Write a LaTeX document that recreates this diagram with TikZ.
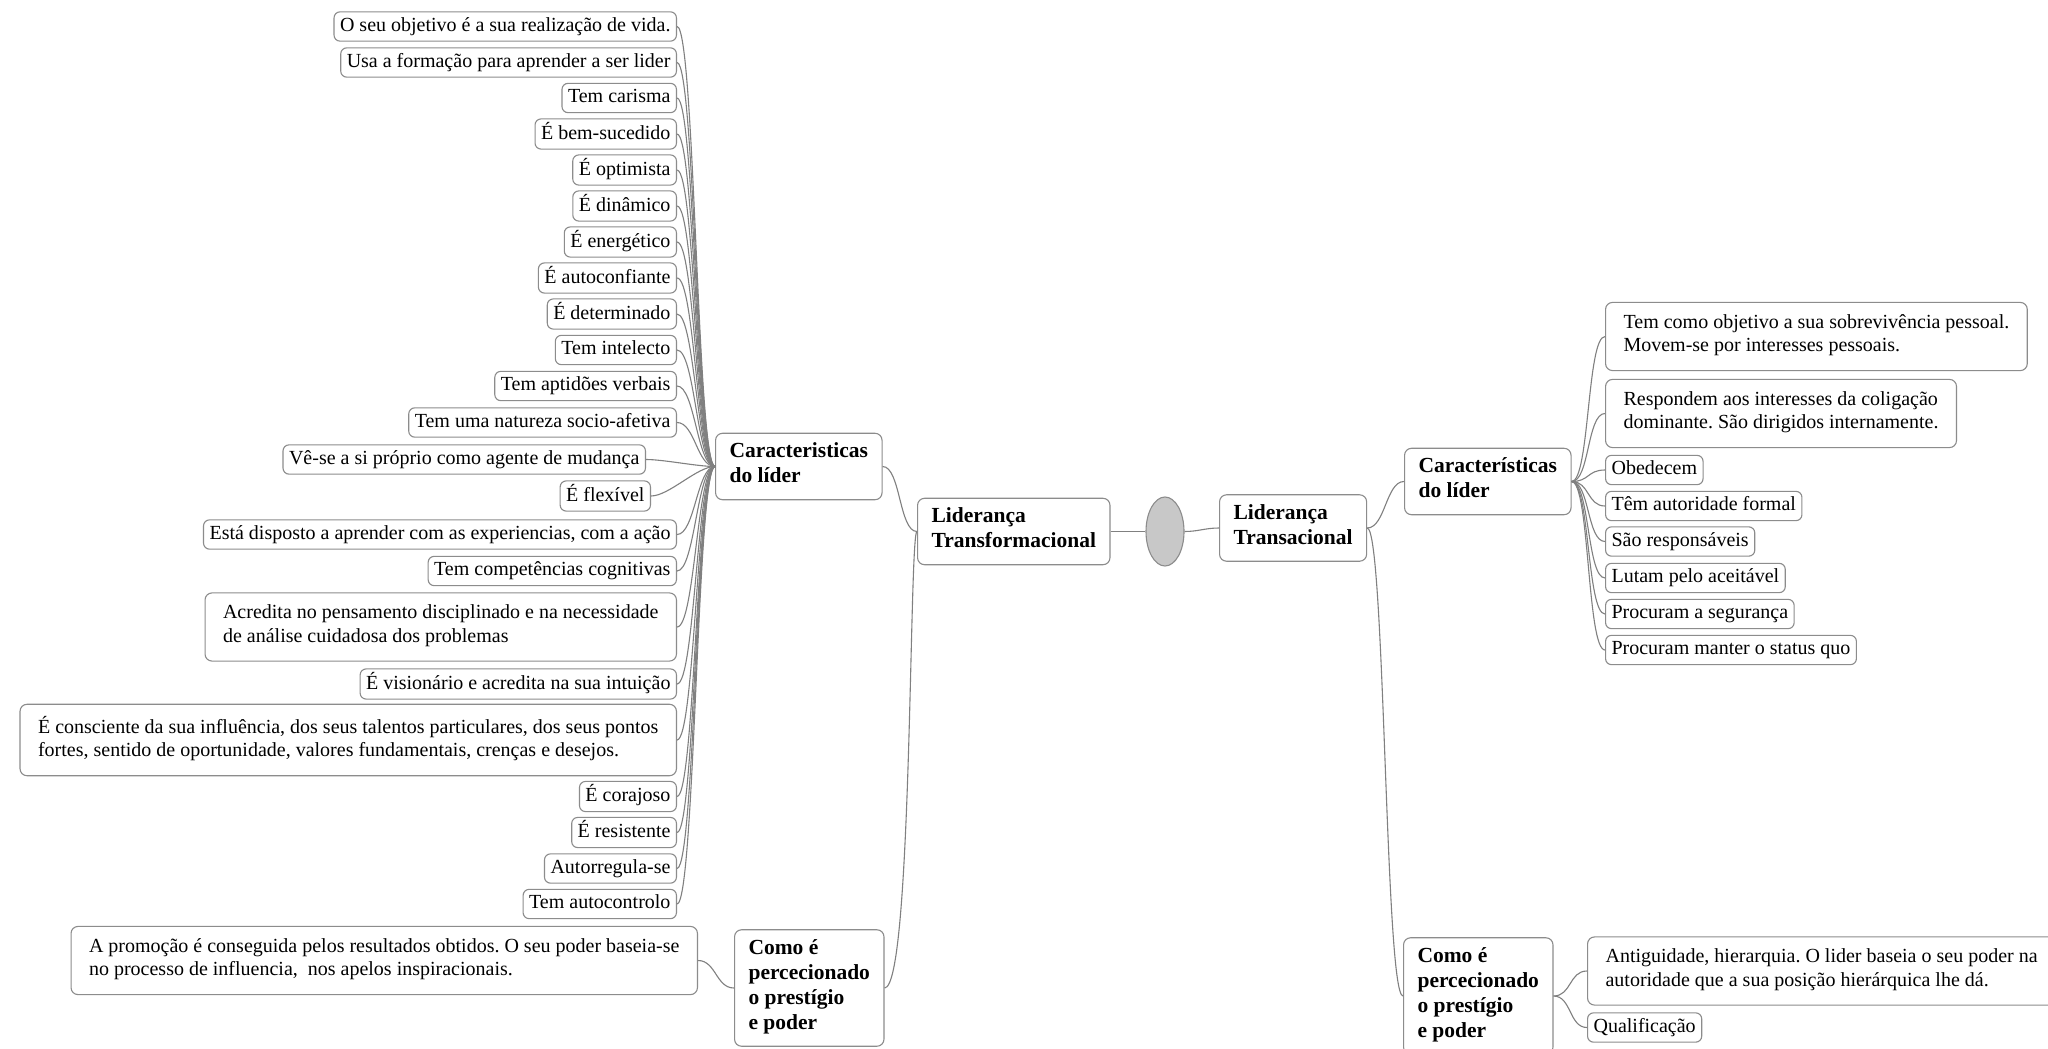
\documentclass[tikz,border=0pt]{standalone}
\usepackage{fontspec}
\setmainfont{Liberation Serif}
\usepackage{tikz}
\usetikzlibrary{shapes.geometric}

\definecolor{boxGray}{HTML}{8C8C8C}
\definecolor{linkGray}{HTML}{808080}
\definecolor{hubGray}{HTML}{C8C8C8}

\frenchspacing

\begin{document}
\begin{tikzpicture}[x=1pt,y=-1pt]

		\useasboundingbox[fill=white] (0,0) rectangle (2048,1049);

		\tikzstyle{idea}=[draw=boxGray, fill=white, rectangle, rounded corners=6pt, line width=1.1pt, inner xsep=6pt, inner ysep=3pt, font=\fontsize{20}{23.3}\selectfont, execute at begin node=\strut, execute at end node=\strut]

		\tikzstyle{ideaLong}=[idea, align=left, rounded corners=7pt, inner xsep=18pt, inner ysep=12pt]

		\tikzstyle{topic}=[idea, align=left, rounded corners=7pt, inner xsep=14pt, inner ysep=9.5pt, font=\fontsize{21.5}{25}\selectfont\bfseries]

		\tikzstyle{hub}=[draw=boxGray, fill=hubGray, ellipse, line width=1.1pt, minimum width=38pt, minimum height=69pt, inner sep=0pt]

		% centro
		\node[topic, anchor=west] (TF) at (917,531.5) {Liderança\\Transformacional};
		\node[hub] (E) at (1165,531.5) {};
		\node[topic, anchor=west] (TA) at (1219,528) {Liderança\\Transacional};

		\node[topic, anchor=west] (CL) at (715,466.5) {Caracteristicas\\do líder};
		\node[topic, anchor=west] (PL) at (734,988) {Como é\\percecionado\\o prestígio\\e poder};
		\node[topic, anchor=west] (CR) at (1404,481.5) {Características\\do líder};
		\node[topic, anchor=west] (PR) at (1403,996) {Como é\\percecionado\\o prestígio\\e poder};

		% transformacional
		\node[idea, anchor=east] (L1) at (677,26.5) {O seu objetivo é a sua realização de vida.};
		\node[idea, anchor=east] (L2) at (677,62.5) {Usa a formação para aprender a ser lider};
		\node[idea, anchor=east] (L3) at (677,98) {Tem carisma};
		\node[idea, anchor=east] (L4) at (677,134) {É bem-sucedido};
		\node[idea, anchor=east] (L5) at (677,170) {É optimista};
		\node[idea, anchor=east] (L6) at (677,206) {É dinâmico};
		\node[idea, anchor=east] (L7) at (677,242) {É energético};
		\node[idea, anchor=east] (L8) at (677,278) {É autoconfiante};
		\node[idea, anchor=east] (L9) at (677,314) {É determinado};
		\node[idea, anchor=east] (L10) at (677,350) {Tem intelecto};
		\node[idea, anchor=east] (L11) at (677,386) {Tem aptidões verbais};
		\node[idea, anchor=east] (L12) at (677,422.5) {Tem uma natureza socio-afetiva};
		\node[idea, anchor=east] (L13) at (646,459.5) {Vê-se a si próprio como agente de mudança};
		\node[idea, anchor=east] (L14) at (651,496) {É flexível};
		\node[idea, anchor=east] (L15) at (677,534.5) {Está disposto a aprender com as experiencias, com a ação};
		\node[idea, anchor=east] (L16) at (677,571) {Tem competências cognitivas};
		\node[ideaLong, anchor=east] (L17) at (677,627) {Acredita no pensamento disciplinado e na necessidade\\de análise cuidadosa dos problemas};
		\node[idea, anchor=east] (L18) at (677,684) {É visionário e acredita na sua intuição};
		\node[ideaLong, anchor=east] (L19) at (677,740) {É consciente da sua influência, dos seus talentos particulares, dos seus pontos\\fortes, sentido de oportunidade, valores fundamentais, crenças e desejos.};
		\node[idea, anchor=east] (L20) at (677,796.5) {É corajoso};
		\node[idea, anchor=east] (L21) at (677,832.5) {É resistente};
		\node[idea, anchor=east] (L22) at (677,868.5) {Autorregula-se};
		\node[idea, anchor=east] (L23) at (677,904) {Tem autocontrolo};

		\node[ideaLong, anchor=east] (PLa) at (698,960.5) {A promoção é conseguida pelos resultados obtidos. O seu poder baseia-se\\no processo de influencia, \ nos apelos inspiracionais.};

		% transacional
		\node[ideaLong, anchor=west] (R1) at (1605,336.5) {Tem como objetivo a sua sobrevivência pessoal.\\Movem-se por interesses pessoais.};
		\node[ideaLong, anchor=west] (R2) at (1605,413.5) {Respondem aos interesses da coligação\\dominante. São dirigidos internamente.};
		\node[idea, anchor=west] (R3) at (1605,470) {Obedecem};
		\node[idea, anchor=west] (R4) at (1605,506) {Têm autoridade formal};
		\node[idea, anchor=west] (R5) at (1605,541.5) {São responsáveis};
		\node[idea, anchor=west] (R6) at (1605,578) {Lutam pelo aceitável};
		\node[idea, anchor=west] (R7) at (1605,614) {Procuram a segurança};
		\node[idea, anchor=west] (R8) at (1605,650) {Procuram manter o status quo};

		\node[ideaLong, anchor=west] (PRa) at (1587,971) {Antiguidade, hierarquia. O lider baseia o seu poder na\\autoridade que a sua posição hierárquica lhe dá.};
		\node[idea, anchor=west] (PRb) at (1587,1027.5) {Qualificação};

		\tikzstyle{linkIdea}=[draw=linkGray, line width=1.1pt]

		\draw[linkIdea] (TF.east)--(E.west);
		\draw[linkIdea] (E.east) .. controls +(14,0) and +(-14,0) .. (TA.west);

		\draw[linkIdea] (TF.west) .. controls +(-18,0) and +(18,0) .. (CL.east);
		\draw[linkIdea] (TF.west) .. controls +(-8,0) and +(28,0) .. (PL.east);
		\draw[linkIdea] (TA.east) .. controls +(18,0) and +(-18,0) .. (CR.west);
		\draw[linkIdea] (TA.east) .. controls +(18,0) and +(-18,0) .. (PR.west);

		\draw[linkIdea] (CL.west) .. controls +(-18,0) and +(18,0) .. (L1.east);
		\draw[linkIdea] (CL.west) .. controls +(-18,0) and +(18,0) .. (L2.east);
		\draw[linkIdea] (CL.west) .. controls +(-18,0) and +(18,0) .. (L3.east);
		\draw[linkIdea] (CL.west) .. controls +(-18,0) and +(18,0) .. (L4.east);
		\draw[linkIdea] (CL.west) .. controls +(-18,0) and +(18,0) .. (L5.east);
		\draw[linkIdea] (CL.west) .. controls +(-18,0) and +(18,0) .. (L6.east);
		\draw[linkIdea] (CL.west) .. controls +(-18,0) and +(18,0) .. (L7.east);
		\draw[linkIdea] (CL.west) .. controls +(-18,0) and +(18,0) .. (L8.east);
		\draw[linkIdea] (CL.west) .. controls +(-18,0) and +(18,0) .. (L9.east);
		\draw[linkIdea] (CL.west) .. controls +(-18,0) and +(18,0) .. (L10.east);
		\draw[linkIdea] (CL.west) .. controls +(-18,0) and +(18,0) .. (L11.east);
		\draw[linkIdea] (CL.west) .. controls +(-18,0) and +(18,0) .. (L12.east);
		\draw[linkIdea] (CL.west) .. controls +(-18,0) and +(18,0) .. (L13.east);
		\draw[linkIdea] (CL.west) .. controls +(-18,0) and +(18,0) .. (L14.east);
		\draw[linkIdea] (CL.west) .. controls +(-18,0) and +(18,0) .. (L15.east);
		\draw[linkIdea] (CL.west) .. controls +(-18,0) and +(18,0) .. (L16.east);
		\draw[linkIdea] (CL.west) .. controls +(-18,0) and +(18,0) .. (L17.east);
		\draw[linkIdea] (CL.west) .. controls +(-18,0) and +(18,0) .. (L18.east);
		\draw[linkIdea] (CL.west) .. controls +(-18,0) and +(18,0) .. (L19.east);
		\draw[linkIdea] (CL.west) .. controls +(-18,0) and +(18,0) .. (L20.east);
		\draw[linkIdea] (CL.west) .. controls +(-18,0) and +(18,0) .. (L21.east);
		\draw[linkIdea] (CL.west) .. controls +(-18,0) and +(18,0) .. (L22.east);
		\draw[linkIdea] (CL.west) .. controls +(-18,0) and +(18,0) .. (L23.east);

		\draw[linkIdea] (PL.west) .. controls +(-18,0) and +(18,0) .. (PLa.east);

		\draw[linkIdea] (CR.east) .. controls +(18,0) and +(-18,0) .. (R1.west);
		\draw[linkIdea] (CR.east) .. controls +(18,0) and +(-18,0) .. (R2.west);
		\draw[linkIdea] (CR.east) .. controls +(18,0) and +(-18,0) .. (R3.west);
		\draw[linkIdea] (CR.east) .. controls +(18,0) and +(-18,0) .. (R4.west);
		\draw[linkIdea] (CR.east) .. controls +(18,0) and +(-18,0) .. (R5.west);
		\draw[linkIdea] (CR.east) .. controls +(18,0) and +(-18,0) .. (R6.west);
		\draw[linkIdea] (CR.east) .. controls +(18,0) and +(-18,0) .. (R7.west);
		\draw[linkIdea] (CR.east) .. controls +(18,0) and +(-18,0) .. (R8.west);

		\draw[linkIdea] (PR.east) .. controls +(18,0) and +(-18,0) .. (PRa.west);
		\draw[linkIdea] (PR.east) .. controls +(18,0) and +(-18,0) .. (PRb.west);

\end{tikzpicture}
\end{document}
